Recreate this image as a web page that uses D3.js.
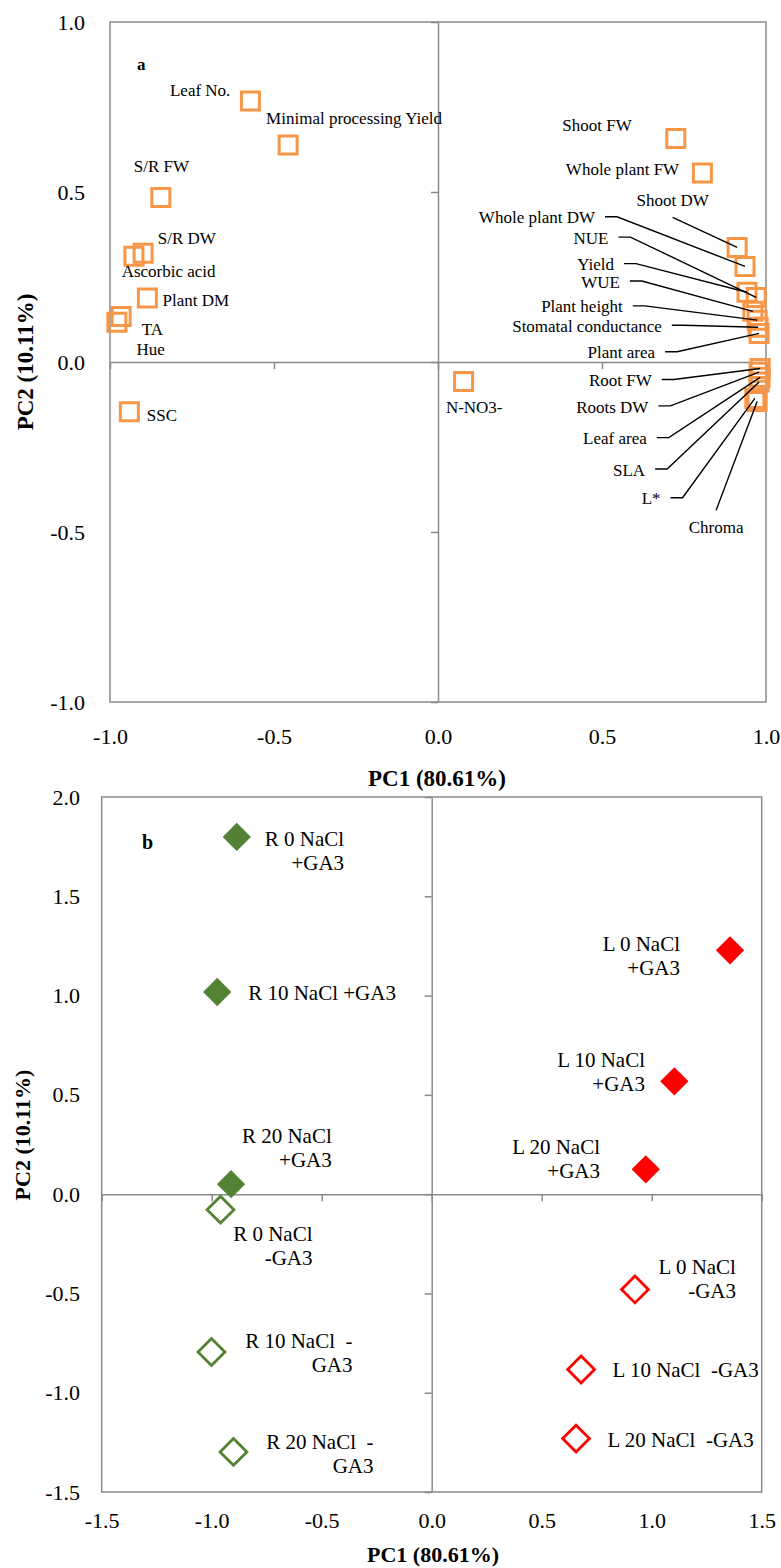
<!DOCTYPE html>
<html><head><meta charset="utf-8">
<script src="https://cdn.jsdelivr.net/npm/d3@7"></script>
<style>
body{margin:0;background:#fff}
text{font-family:"Liberation Serif","Times New Roman",serif;fill:#000}
</style>
</head><body>
<svg id="chart" width="781" height="1568"></svg>
<script>
// ---------- DATA: panel a (variable loadings) ----------
const varNames = ["Leaf No.","Minimal processing Yield","S/R FW","S/R DW","Ascorbic acid","Plant DM","TA","Hue","SSC","N-NO3-","Shoot FW","Whole plant FW","Shoot DW","Whole plant DW","NUE","Yield","WUE","Plant height","Stomatal conductance","Plant area","Root FW","Roots DW","Leaf area","SLA","L*","Chroma"];
const varPC1 = [-0.572,-0.457,-0.845,-0.899,-0.927,-0.886,-0.966,-0.979,-0.941,0.078,0.725,0.806,0.912,0.936,0.970,0.942,0.960,0.973,0.976,0.979,0.982,0.979,0.982,0.979,0.966,0.973];
const varPC2 = [0.768,0.638,0.484,0.320,0.311,0.188,0.134,0.117,-0.146,-0.057,0.657,0.556,0.337,0.281,0.190,0.205,0.149,0.123,0.102,0.084,-0.019,-0.030,-0.045,-0.059,-0.107,-0.116];

// ---------- DATA: panel b (treatment scores) ----------
const treatLines = [["R 0 NaCl","+GA3"],["R 10 NaCl +GA3"],["R 20 NaCl","+GA3"],["L 0 NaCl","+GA3"],["L 10 NaCl","+GA3"],["L 20 NaCl","+GA3"],["R 0 NaCl","-GA3"],["R 10 NaCl  -","GA3"],["R 20 NaCl  -","GA3"],["L 0 NaCl","-GA3"],["L 10 NaCl  -GA3"],["L 20 NaCl  -GA3"]];
const treatCultivar = ["R","R","R","L","L","L","R","R","R","L","L","L"];
const treatGA3 = [true,true,true,true,true,true,false,false,false,false,false,false];
const treatPC1 = [-0.886,-0.975,-0.912,1.356,1.103,0.973,-0.960,-1.001,-0.901,0.924,0.679,0.656];
const treatPC2 = [1.799,1.018,0.050,1.228,0.568,0.125,-0.078,-0.795,-1.298,-0.480,-0.883,-1.231];

// ---------- tick labels ----------
const ticksA = [-1.0,-0.5,0.0,0.5,1.0];
const ticksBx = [-1.5,-1.0,-0.5,0.0,0.5,1.0,1.5];
const ticksBy = [-1.5,-1.0,-0.5,0.0,0.5,1.0,1.5,2.0];
const axisTitleX = "PC1 (80.61%)", axisTitleY = "PC2 (10.11%)";

// ---------- layout (label offsets in px from point) ----------
const labA = [
 {dx:-20,dy:-10.5,a:"end"},{dx:-22,dy:-26.5,a:"start"},{dx:-27,dy:-31.3,a:"start"},
 {dx:14.7,dy:-14.7,a:"start"},{dx:-12.3,dy:15,a:"start"},{dx:15.2,dy:2.3,a:"start"},
 {dx:20.7,dy:13.3,a:"start"},{dx:19.7,dy:27,a:"start"},{dx:17.5,dy:3.7,a:"start"},
 {dx:-17.7,dy:25.7,a:"start"},{dx:-44,dy:-13.3,a:"end"},{dx:-23.2,dy:-3.7,a:"end"},
 {dx:-64.5,dy:-47,a:"middle",lead:"direct",lx:0,ly:17},
 {dx:-150,dy:-48.7,a:"end",lead:"knee"},{dx:-147.7,dy:-59.3,a:"end",lead:"knee"},
 {dx:-133,dy:-27.7,a:"end",lead:"knee"},{dx:-133,dy:-29.3,a:"end",lead:"knee"},
 {dx:-134.3,dy:-13.3,a:"end",lead:"knee"},{dx:-96.3,dy:-1,a:"end",lead:"knee"},
 {dx:-104,dy:19.3,a:"end",lead:"knee"},{dx:-108.3,dy:12,a:"end",lead:"knee"},
 {dx:-110.7,dy:34.7,a:"end",lead:"knee"},{dx:-113.3,dy:61.3,a:"end",lead:"knee"},
 {dx:-114,dy:88,a:"end",lead:"knee"},{dx:-94.3,dy:100.3,a:"end",lead:"knee"},
 {dx:-41,dy:125.7,a:"middle",lead:"direct",lx:0,ly:-17}
];
const labB = [
 {dx:107.3,dy:2.6,a:"end"},{dx:31,dy:0.6,a:"start"},{dx:100.7,dy:-48,a:"end"},
 {dx:-50,dy:-6,a:"end"},{dx:-29.3,dy:-21,a:"end"},{dx:-45.7,dy:-22.3,a:"end"},
 {dx:92,dy:24,a:"end"},{dx:141,dy:-11,a:"end"},{dx:140,dy:-10,a:"end"},
 {dx:101,dy:-22,a:"end"},{dx:31.5,dy:0.7,a:"start"},{dx:31.5,dy:1.7,a:"start"}
];

const svg = d3.select("#chart");
const GRAY = "#8a8a8a";
const fmt = d => d.toFixed(1);

function frame(g, x, y, xt, yt, ylabPad, xlabPad, fs) {
  const [x0,x1] = x.range(), [y0,y1] = y.range();
  // zero axes with ticks
  g.append("g").attr("transform",`translate(0,${y(0)})`)
    .call(d3.axisBottom(x).tickValues(xt).tickSizeInner(7).tickSizeOuter(0).tickFormat(""))
    .call(s=>{s.selectAll("path,line").attr("stroke",GRAY).attr("stroke-width",1.5);});
  g.append("g").attr("transform",`translate(${x(0)},0)`)
    .call(d3.axisLeft(y).tickValues(yt).tickSizeInner(7).tickSizeOuter(0).tickFormat(""))
    .call(s=>{s.selectAll("path,line").attr("stroke",GRAY).attr("stroke-width",1.5);});
  // border
  g.append("rect").attr("x",x0).attr("y",y1).attr("width",x1-x0).attr("height",y0-y1)
    .attr("fill","none").attr("stroke",GRAY).attr("stroke-width",1.5);
  // tick labels
  g.append("g").attr("transform",`translate(${x0},0)`)
    .call(d3.axisLeft(y).tickValues(yt).tickSize(0).tickPadding(ylabPad).tickFormat(fmt))
    .call(s=>{s.select(".domain").remove(); s.selectAll("text").style("font-size",fs+"px").style("font-family","Liberation Serif");});
  g.append("g").attr("transform",`translate(0,${y0})`)
    .call(d3.axisBottom(x).tickValues(xt).tickSize(0).tickPadding(xlabPad).tickFormat(fmt))
    .call(s=>{s.select(".domain").remove(); s.selectAll("text").style("font-size",fs+"px").style("font-family","Liberation Serif");});
}

// ================= PANEL A =================
const xA = d3.scaleLinear().domain([-1,1]).range([110,766]);
const yA = d3.scaleLinear().domain([-1,1]).range([702,22]);
const gA = svg.append("g");
frame(gA, xA, yA, ticksA, ticksA, 25, 26, 22);

gA.append("text").attr("x",25).attr("y",362).attr("transform","rotate(-90,25,362)")
  .attr("text-anchor","middle").attr("dy","0.33em").style("font-size","23px").style("font-weight","bold").text(axisTitleY);
gA.append("text").attr("x",437).attr("y",778).attr("text-anchor","middle").attr("dy","0.33em")
  .style("font-size","23px").style("font-weight","bold").text(axisTitleX);
gA.append("text").attr("x",137).attr("y",64).attr("dy","0.33em").style("font-size","17px").style("font-weight","bold").text("a");

const sq = d3.symbol().type(d3.symbolSquare).size(18*18);
varNames.forEach((n,i)=>{
  gA.append("path").attr("d",sq()).attr("transform",`translate(${xA(varPC1[i])},${yA(varPC2[i])})`)
    .attr("fill","none").attr("stroke","#F79646").attr("stroke-width",3);
});
varNames.forEach((n,i)=>{
  const px = xA(varPC1[i]), py = yA(varPC2[i]), L = labA[i];
  const tx = px+L.dx, ty = py+L.dy;
  gA.append("text").attr("x",tx).attr("y",ty).attr("dy","0.33em").attr("text-anchor",L.a)
    .style("font-size","17px").text(n);
  if (L.lead==="knee") {
    gA.append("path").attr("d",d3.line()([[tx+10,ty-1],[tx+22,ty-1],[px,py]]))
      .attr("fill","none").attr("stroke","#000").attr("stroke-width",1.4);
  } else if (L.lead==="direct") {
    gA.append("path").attr("d",d3.line()([[tx+L.lx,ty+L.ly],[px,py]]))
      .attr("fill","none").attr("stroke","#000").attr("stroke-width",1.4);
  }
});

// ================= PANEL B =================
const xB = d3.scaleLinear().domain([-1.5,1.5]).range([101.7,761.7]);
const yB = d3.scaleLinear().domain([-1.5,2]).range([1492,797]);
const gB = svg.append("g");
frame(gB, xB, yB, ticksBx, ticksBy, 21.7, 20, 22);

gB.append("text").attr("x",23).attr("y",1135).attr("transform","rotate(-90,23,1135)")
  .attr("text-anchor","middle").attr("dy","0.33em").style("font-size","22px").style("font-weight","bold").text(axisTitleY);
gB.append("text").attr("x",433).attr("y",1555).attr("text-anchor","middle").attr("dy","0.33em")
  .style("font-size","22px").style("font-weight","bold").text(axisTitleX);
gB.append("text").attr("x",142).attr("y",842).attr("dy","0.33em").style("font-size","20px").style("font-weight","bold").text("b");

const colour = {R:"#548235", L:"#FF0000"};
const dFill = d3.symbol().type(d3.symbolSquare).size(20*20);
const dOpen = d3.symbol().type(d3.symbolSquare).size(19*19);
treatPC1.forEach((v,i)=>{
  const c = colour[treatCultivar[i]];
  const p = gB.append("path").attr("transform",`translate(${xB(v)},${yB(treatPC2[i])}) rotate(45)`);
  if (treatGA3[i]) p.attr("d",dFill()).attr("fill",c);
  else p.attr("d",dOpen()).attr("fill","#fff").attr("stroke",c).attr("stroke-width",2.8);
});
treatPC1.forEach((v,i)=>{
  const px = xB(v), py = yB(treatPC2[i]), L = labB[i];
  const t = gB.append("text").attr("text-anchor",L.a).style("font-size","21px").style("white-space","pre");
  treatLines[i].forEach((ln,k)=>{
    t.append("tspan").attr("x",px+L.dx).attr("y",py+L.dy+k*24).attr("dy","0.33em").text(ln);
  });
});
</script>
</body></html>
